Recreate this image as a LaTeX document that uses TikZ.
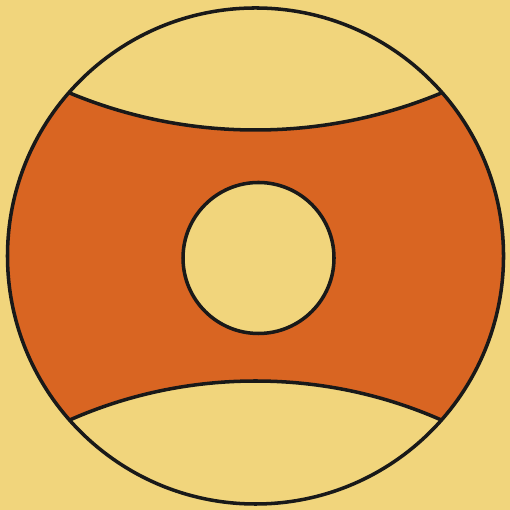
\documentclass[tikz,border=0pt]{standalone}
\usepackage{xcolor}
\usepackage{tikz}
\definecolor{sandbg}{HTML}{F1D57C}
\definecolor{bandorange}{HTML}{D96522}

\begin{document}
\begin{tikzpicture}[
    x=0.01cm, y=0.01cm,
    outline/.style={draw=black!90, line width=1pt},
]
    % Page: 510 x 510 px, y measured upward
    \fill[sandbg] (0,0) rectangle (510,510);
    \useasboundingbox (0,0) rectangle (510,510);

    % Main disc and its band
    \coordinate (disc) at (255.5,254);
    \begin{scope}
        \clip (disc) circle (248);
        \fill[bandorange] (disc) circle (248);
        % upper cap (arc centre far above)
        \fill[sandbg] (255.5,863.5) circle (483.5);
        \draw[outline] (255.5,863.5) circle (483.5);
        % lower cap (arc centre far below)
        \fill[sandbg] (255.5,-331.7) circle (460.7);
        \draw[outline] (255.5,-331.7) circle (460.7);
    \end{scope}
    \draw[outline] (disc) circle (248);

    % Hole
    \coordinate (hole) at (258.5,252);
    \draw[outline, fill=sandbg] (hole) circle (75.5);
\end{tikzpicture}
\end{document}
